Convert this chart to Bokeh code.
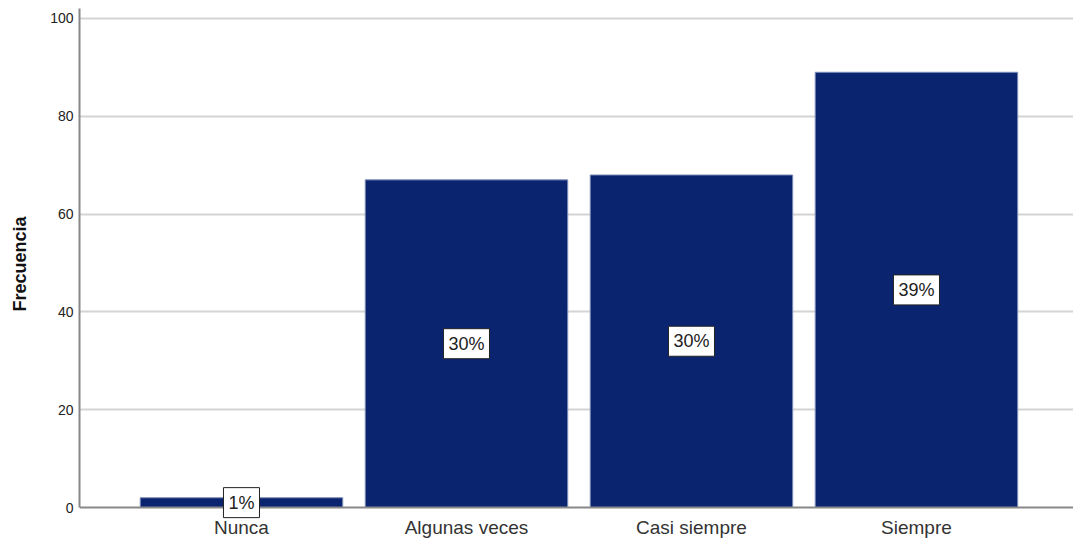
from bokeh.plotting import figure
from bokeh.models import ColumnDataSource, Range1d, FixedTicker, Label, Span
from bokeh.embed import file_html
from bokeh.resources import INLINE

categories = ["Nunca", "Algunas veces", "Casi siempre", "Siempre"]
frecuencia = [2, 67, 68, 89]
porcentajes = ["1%", "30%", "30%", "39%"]
y_ticks = [0, 20, 40, 60, 80, 100]

xs = list(range(len(categories)))
src = ColumnDataSource(dict(x=xs, top=frecuencia))

Y_TOP = 102.04
p = figure(width=1073, height=540, output_backend="svg", toolbar_location=None,
           x_range=Range1d(-0.72, 3.698), y_range=Range1d(-2.449, Y_TOP),
           min_border_left=79, min_border_right=0, min_border_top=8,
           min_border_bottom=20)
p.outline_line_color = None
p.background_fill_color = "white"

p.vbar(x="x", top="top", bottom=0, width=0.9, source=src,
       fill_color="#0b2470", line_color="#7f8fb8", line_width=1)

# baseline (x axis line) at zero
p.add_layout(Span(location=0, dimension="width", line_color="#888888",
                  line_width=2, level="guide"))

for xi, v, lab in zip(xs, frecuencia, porcentajes):
    p.add_layout(Label(x=xi, y=v / 2, text=lab, level="overlay",
                       text_align="center", text_baseline="middle",
                       text_font="Liberation Sans", text_font_size="18px",
                       text_color="#222222",
                       background_fill_color="white", border_line_color="#222222",
                       border_line_width=1, padding=5))

# x axis: category labels only (line drawn by the span at zero)
p.xaxis.ticker = FixedTicker(ticks=xs)
p.xaxis.major_label_overrides = {i: c for i, c in zip(xs, categories)}
p.xaxis.major_label_text_font = "Liberation Sans"
p.xaxis.major_label_text_font_size = "19px"
p.xaxis.major_label_text_color = "#333333"
p.xaxis.major_label_standoff = -3
p.xaxis.major_tick_out = 0
p.xaxis.major_tick_in = 0
p.xaxis.major_tick_line_color = None
p.xaxis.minor_tick_line_color = None
p.xaxis.axis_line_color = None

p.yaxis.bounds = (0, Y_TOP)
p.yaxis.ticker = FixedTicker(ticks=y_ticks)
p.yaxis.major_label_text_font = "Liberation Sans"
p.yaxis.major_label_text_font_size = "14px"
p.yaxis.major_label_text_color = "#222222"
p.yaxis.major_label_standoff = 6
p.yaxis.major_tick_out = 0
p.yaxis.major_tick_in = 0
p.yaxis.major_tick_line_color = None
p.yaxis.minor_tick_line_color = None
p.yaxis.axis_line_color = "#888888"
p.yaxis.axis_line_width = 2
p.yaxis.axis_label = "Frecuencia"
p.yaxis.axis_label_text_font = "Liberation Sans"
p.yaxis.axis_label_text_font_style = "bold"
p.yaxis.axis_label_text_font_size = "18px"
p.yaxis.axis_label_text_color = "#111111"
p.yaxis.axis_label_standoff = 17

p.xgrid.grid_line_color = None
p.ygrid.ticker = FixedTicker(ticks=y_ticks[1:])
p.ygrid.grid_line_color = "#d4d4d4"
p.ygrid.grid_line_width = 2

open("out.html", "w").write(file_html(p, INLINE))
